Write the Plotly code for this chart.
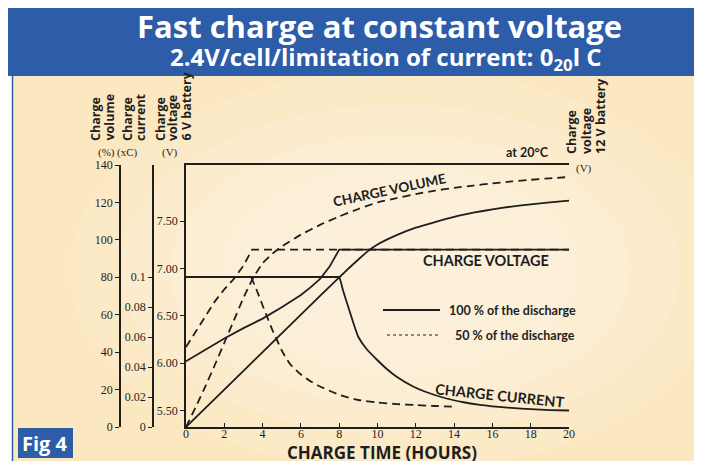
import plotly.graph_objects as go

# page body has an 8px margin, so the figure is drawn 8px smaller and offset
OFF = 8
W, H = 702 - OFF, 461 - OFF

# ---------------- data ----------------
hours_vol_100 = [0, 2, 4, 6, 8, 9, 9.5, 10, 11, 12, 13, 14, 15, 16, 17, 18, 19, 20]
vol_100 = [0, 20, 40, 60, 80, 89.5, 94, 97.5, 102.5, 106.5, 109.5, 112.3, 114.5, 116.3, 117.8, 119, 120, 121]

hours_vol_50 = [0, 0.5, 1, 1.5, 2, 2.5, 3, 3.5, 4, 4.5, 5, 6, 7, 8, 9, 10, 11, 12, 13, 14, 15, 16, 17, 18, 19, 20]
vol_50 = [0, 10.5, 21.5, 33, 45, 57, 69, 79.5, 87.5, 92.5, 96.5, 102.8, 108, 112.5, 116.5, 120, 122.3,
          124.5, 126.3, 127.8, 129, 130.2, 131.2, 132.1, 132.9, 133.6]

hours_volt_100 = [0, 1, 2, 3, 4, 5, 6, 6.5, 7, 7.5, 8, 20]
volt_100 = [6.02, 6.14, 6.26, 6.37, 6.47, 6.59, 6.72, 6.80, 6.89, 7.02, 7.20, 7.20]

hours_volt_50 = [0, 0.5, 1, 1.5, 2, 2.5, 3, 3.45, 20]
volt_50 = [6.17, 6.33, 6.50, 6.65, 6.78, 6.89, 7.03, 7.20, 7.20]

hours_cur_100 = [0, 7.9, 8, 8.2, 8.5, 8.75, 9, 9.43, 10, 10.5, 11, 11.86, 12.5, 13.6, 14.5, 15.35, 16, 17, 18, 19, 20]
cur_100 = [0.1, 0.1, 0.1, 0.091, 0.079, 0.069, 0.060, 0.052, 0.0445, 0.0385, 0.0335, 0.027, 0.0235, 0.019,
           0.0165, 0.0147, 0.0138, 0.0127, 0.0119, 0.0113, 0.011]

hours_cur_50 = [3.4, 3.7, 4, 4.25, 4.5, 4.75, 5, 5.43, 6, 6.5, 7, 8, 9, 10, 11, 12, 13, 14.1]
cur_50 = [0.1, 0.091, 0.081, 0.073, 0.065, 0.058, 0.051, 0.042, 0.035, 0.0305, 0.027, 0.0215, 0.018,
          0.0163, 0.0153, 0.0146, 0.014, 0.0135]

x_ticks = list(range(0, 21, 2))
vol_ticks = list(range(0, 141, 20))
cur_ticks = [0, 0.02, 0.04, 0.06, 0.08, 0.1]
cur_ticktext = ["0", "0.02", "0.04", "0.06", "0.08", "0.1"]
v6_ticks = [5.5, 6.0, 6.5, 7.0, 7.5]
v6_ticktext = ["5.50", "6.00", "6.50", "7.00", "7.50"]
v12_ticks = [11, 12, 13, 14, 15]
v12_ticktext = ["11.0", "12.0", "13.0", "14.0", "15.0"]

# ---------------- helpers (reference pixel -> paper) ----------------
def px(x):
    return (x - OFF) / W

def py(y):
    return 1 - (y - OFF) / H

INK = "#1e1e1e"
SERIF = "Liberation Serif"
SANS = "Lato"
WIDE = "Open Sans"
BLUE = "#2d5ca8"
LW = 1.8
DASH = "8px,5px"

fig = go.Figure()

def line(xs, ys, yaxis, dash="solid", smooth=True):
    ln = dict(color=INK, width=LW, dash=dash)
    if smooth:
        ln.update(shape="spline", smoothing=0.5)
    fig.add_trace(go.Scatter(x=xs, y=ys, xaxis="x", yaxis=yaxis, mode="lines", line=ln,
                             showlegend=False, hoverinfo="skip"))

line(hours_vol_100, vol_100, "y")
line(hours_vol_50, vol_50, "y", DASH)
line(hours_volt_100, volt_100, "y3", smooth=False)
line(hours_volt_50, volt_50, "y3", DASH, smooth=False)
line(hours_cur_100, cur_100, "y2")
line(hours_cur_50, cur_50, "y2", DASH)

# ---------------- shapes ----------------
shapes = []
shapes.append(dict(type="rect", xref="paper", yref="paper", x0=px(12), x1=px(702), y0=py(461), y1=py(74),
                   fillcolor="#fce8c0", line=dict(width=0), layer="below"))
for rx, ry in [(330, 200), (280, 165), (230, 135), (180, 105), (120, 75)]:
    cx, cy = 400, 270
    shapes.append(dict(type="circle", xref="paper", yref="paper", x0=px(cx - rx), x1=px(cx + rx),
                       y0=py(cy + ry), y1=py(cy - ry), fillcolor="white", opacity=0.11,
                       line=dict(width=0), layer="below"))
shapes.append(dict(type="line", xref="paper", yref="paper", x0=px(12.5), x1=px(12.5), y0=py(461), y1=py(74),
                   line=dict(color=BLUE, width=1.5), layer="below"))
shapes.append(dict(type="rect", xref="paper", yref="paper", x0=px(8), x1=px(702), y0=py(76), y1=py(8),
                   fillcolor=BLUE, line=dict(width=0), layer="below"))
shapes.append(dict(type="rect", xref="paper", yref="paper", x0=px(18), x1=px(73), y0=py(458), y1=py(428),
                   fillcolor=BLUE, line=dict(width=0), layer="below"))
# legend samples
shapes.append(dict(type="line", xref="paper", yref="paper", x0=px(383), x1=px(440), y0=py(310), y1=py(310),
                   line=dict(color=INK, width=2)))
shapes.append(dict(type="line", xref="paper", yref="paper", x0=px(387), x1=px(440), y0=py(335), y1=py(335),
                   line=dict(color=INK, width=1, dash="3px,3px")))

# ---------------- annotations ----------------
ann = []

def text(x, y, s, size, color=INK, family=SANS, xanchor="center", yanchor="middle", angle=0, align="center"):
    ann.append(dict(x=px(x), y=py(y), xref="paper", yref="paper", text=s, showarrow=False,
                    font=dict(size=size, color=color, family=family), xanchor=xanchor, yanchor=yanchor,
                    textangle=angle, align=align))

text(379, 26, "<b>Fast charge at constant voltage</b>", 31, "white", family=WIDE)
text(385, 58, "<b>2.4V/cell/limitation of current: 0<sub>20</sub>l C</b>", 24, "white", family=WIDE)
text(45, 443, "<b>Fig 4</b>", 20, "white", family=WIDE)

# rotated axis titles (one annotation per line)
for xc, s in [(96, "Charge"), (109, "volume"), (128, "Charge"), (141, "current"),
              (161, "Charge"), (173, "voltage"), (186, "6 V battery")]:
    text(xc, 143, "<b>%s</b>" % s, 12.5, family=WIDE, yanchor="bottom", angle=-90)
text(106, 152, "(%)", 11, family=SERIF)
text(127, 152, "(xC)", 11, family=SERIF)
text(170, 152, "(V)", 11, family=SERIF)

for xc, s in [(571, "Charge"), (586, "voltage"), (600, "12 V battery")]:
    text(xc, 156, "<b>%s</b>" % s, 12.5, family=WIDE, yanchor="bottom", angle=-90)
text(584, 168, "(V)", 11, family=SERIF)
text(527, 152, "<b>at 20°C</b>", 12.5)

text(389, 190, "<b>CHARGE VOLUME</b>", 13.5, angle=-12)
text(486, 261, "<b>CHARGE VOLTAGE</b>", 14.5)
text(500, 395, "<b>CHARGE CURRENT</b>", 14.5, angle=6)
text(447, 310, "<b>100 % of the discharge</b>", 12.5, xanchor="left")
text(453, 335, "<b>50 % of the discharge</b>", 12.5, xanchor="left")
text(382, 452, "<b>CHARGE TIME (HOURS)</b>", 17, family=WIDE)

# ---------------- axes ----------------
dom = [py(427), py(165)]
tickfont = dict(family=SERIF, size=12, color=INK)
common = dict(showgrid=False, zeroline=False, showline=True, linecolor=INK, linewidth=1.5,
              tickcolor=INK, tickwidth=1.2, tickfont=tickfont, fixedrange=True, automargin=False)

fig.update_layout(
    width=W, height=H,
    margin=dict(l=0, r=0, t=0, b=0, autoexpand=False),
    paper_bgcolor="white",
    plot_bgcolor="rgba(0,0,0,0)",
    showlegend=False,
    shapes=shapes,
    annotations=ann,
    xaxis=dict(domain=[px(186), px(569)], range=[0, 20], anchor="y3", mirror=True,
               ticks="inside", ticklen=4, tickvals=x_ticks, ticklabelstandoff=-5, **common),
    yaxis=dict(domain=dom, range=[0, 140], anchor="free", position=px(120), side="left",
               ticks="outside", ticklen=4, tickvals=vol_ticks, **common),
    yaxis2=dict(domain=dom, range=[0, 262 / 1500], anchor="free", position=px(153), side="left",
                overlaying="y", ticks="outside", ticklen=4, tickvals=cur_ticks, ticktext=cur_ticktext, **common),
    yaxis3=dict(domain=dom, range=[5.3245, 8.094], anchor="x", side="left", overlaying="y",
                ticks="outside", ticklen=4, tickvals=v6_ticks, ticktext=v6_ticktext, **common),
    yaxis4=dict(domain=dom, range=[10.619, 16.135], anchor="x", side="right", overlaying="y",
                ticks="inside", ticklen=5, tickvals=v12_ticks, ticktext=v12_ticktext, **common),
)

fig.write_html("out.html")
